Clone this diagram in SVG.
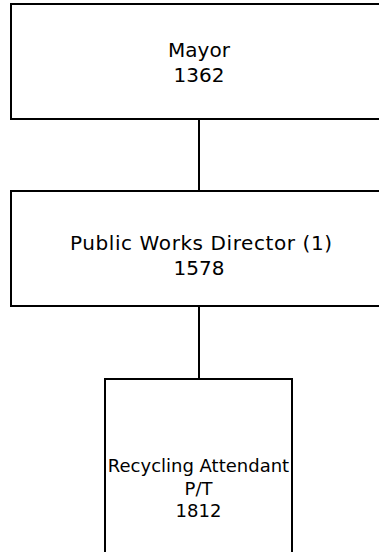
<svg xmlns="http://www.w3.org/2000/svg" width="379" height="552" viewBox="0 0 379 552">
<style>
.box{fill:#fff;stroke:#000;stroke-width:2}
.t{font-family:"DejaVu Sans",sans-serif;font-size:20px;fill:#000;text-anchor:middle}
.s{font-size:18px}
.c{stroke:#000;stroke-width:2;fill:none}
</style>
<rect width="379" height="552" fill="#fff"/>
<g id="connectors">
<line class="c" x1="199" y1="119" x2="199" y2="191"/>
<line class="c" x1="199" y1="306" x2="199" y2="379"/>
</g>
<g id="mayor">
<rect class="box" x="11" y="4" width="376" height="115"/>
<text class="t" x="199" y="57">Mayor</text>
<text class="t" x="199" y="82">1362</text>
</g>
<g id="director">
<rect class="box" x="11" y="191" width="376" height="115"/>
<text class="t" x="201" y="250" textLength="262" lengthAdjust="spacing">Public Works Director (1)</text>
<text class="t" x="199" y="275">1578</text>
</g>
<g id="attendant">
<rect class="box" x="105" y="379" width="187" height="185"/>
<text class="t s" x="198.5" y="472">Recycling Attendant</text>
<text class="t s" x="198.5" y="495">P/T</text>
<text class="t s" x="198.5" y="517">1812</text>
</g>
</svg>
